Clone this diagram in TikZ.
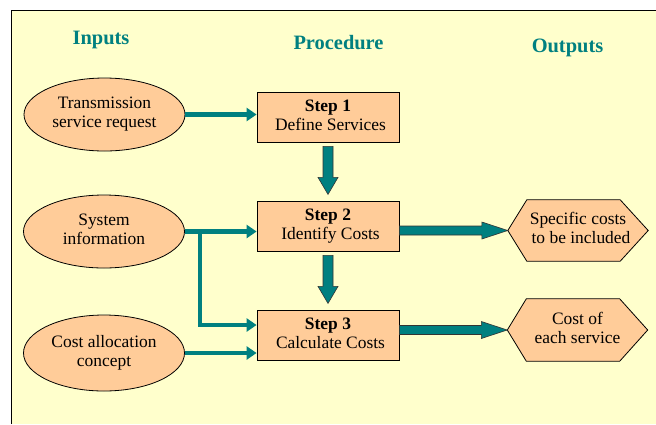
\documentclass[tikz,border=0pt]{standalone}
\usepackage{fontspec}
\setmainfont{Liberation Serif}
\setsansfont{Liberation Serif}
\usetikzlibrary{shapes.geometric,calc,arrows.meta}
\definecolor{paper}{HTML}{FFFFCC}
\definecolor{peach}{HTML}{FFCC99}
\definecolor{tealc}{HTML}{008080}
% two centred lines of text
\newcommand\twolines[2]{\begin{tabular}{@{}c@{}}#1\\#2\end{tabular}}
\begin{document}
\begin{tikzpicture}[x=1bp,y=-1bp,
  every node/.style={font=\rmfamily\fontsize{17.5}{20}\selectfont, text=black},
  title/.style={font=\rmfamily\fontsize{20.5}{24}\selectfont\bfseries, text=tealc, anchor=base},
  inbox/.style={ellipse, draw=black, line width=0.8bp, fill=peach,
    minimum width=161bp, minimum height=73bp, inner sep=0pt},
  stepbox/.style={rectangle, draw=black, line width=0.8bp, fill=peach,
    minimum width=142bp, minimum height=50bp, inner sep=0pt},
  hexframe/.style={rectangle, minimum width=140bp, minimum height=61bp, inner sep=0pt},
  hexfill/.style={draw=black, line width=0.8bp, fill=peach},
  feed/.style={draw=tealc, line width=4.5bp, -{Triangle[length=10bp,width=13bp]}},
  blockarrow/.style={fill=tealc, draw=black!80, line width=0.6bp},
]
\renewcommand\arraystretch{0.95}
\useasboundingbox (0,0) rectangle (656,424);
% sheet
\fill[paper] (11,10) rectangle (656,424);
\draw[line width=1bp] (11,424) -- (11,10) -- (656,10);

% column headings
\node[title] (tin)   at (101,44.5) {Inputs};
\node[title] (tproc) at (338.5,49) {Procedure};
\node[title] (tout)  at (567.5,52.5) {Outputs};

% inputs
\node[inbox] (req)   at (104.5,114.5) {\twolines{Transmission}{service request}};
\node[inbox] (sys)   at (104,231.5) {\twolines{System}{information}};
\node[inbox, minimum height=76bp] (alloc) at (104,353) {\twolines{Cost allocation}{concept}};

% procedure steps
\node[stepbox] (s1) at (328,117) {\twolines{\textbf{Step 1}}{\hspace*{5bp}Define Services}};
\node[stepbox] (s2) at (328,226) {\twolines{\textbf{Step 2}}{\hspace*{5bp}Identify Costs}};
\node[stepbox] (s3) at (328,335) {\twolines{\textbf{Step 3}}{\hspace*{5bp}Calculate Costs}};

% outputs (hexagons)
\node[hexframe] (o1) at (578,230.5) {};
\path[hexfill] (o1.west) -- ([xshift=19bp]o1.north west) -- ([xshift=-28bp]o1.north east)
  -- (o1.east) -- ([xshift=-28bp]o1.south east) -- ([xshift=19bp]o1.south west) -- cycle;
\node (o1t) at (o1) {\twolines{Specific costs}{\hspace*{6bp}to be included}};

\node[hexframe, minimum height=62bp] (o2) at (577.5,330) {};
\path[hexfill] (o2.west) -- ([xshift=19bp]o2.north west) -- ([xshift=-28bp]o2.north east)
  -- (o2.east) -- ([xshift=-28bp]o2.south east) -- ([xshift=19bp]o2.south west) -- cycle;
\node (o2t) at (o2) {\twolines{Cost of}{each service}};

% input feeds
\coordinate (fork) at ($(sys.east)+(15,0)$);
\coordinate (s3in) at ($(s3.west)+(0,-10)$);
\draw[feed] (req.east) -- (req.east -| s1.west);
\draw[feed] (sys.east) -- (sys.east -| s2.west);
\draw[feed] (fork) |- (s3in);
\draw[feed] (alloc.east) -- (alloc.east -| s3.west);

% block arrows between steps
\draw[blockarrow, shift={(s1.south)}] (-5,4) -- (-5,35) -- (-10,35) -- (0,52)
  -- (10,35) -- (5,35) -- (5,4) -- cycle;
\draw[blockarrow, shift={(s2.south)}] (-5,4) -- (-5,35) -- (-10,35) -- (0,52)
  -- (10,35) -- (5,35) -- (5,4) -- cycle;

% block arrows to outputs
\coordinate (a2) at (s2.east |- o1.west);
\coordinate (a3) at (s3.east |- o2.west);
\draw[blockarrow] ($(a2)+(0,-4.5)$) -- ($(o1.west)+(-26,-4.5)$) -- ($(o1.west)+(-26,-8.5)$)
  -- (o1.west) -- ($(o1.west)+(-26,8.5)$) -- ($(o1.west)+(-26,4.5)$) -- ($(a2)+(0,4.5)$) -- cycle;
\draw[blockarrow] ($(a3)+(0,-4.5)$) -- ($(o2.west)+(-26,-4.5)$) -- ($(o2.west)+(-26,-8.5)$)
  -- (o2.west) -- ($(o2.west)+(-26,8.5)$) -- ($(o2.west)+(-26,4.5)$) -- ($(a3)+(0,4.5)$) -- cycle;
\end{tikzpicture}
\end{document}
